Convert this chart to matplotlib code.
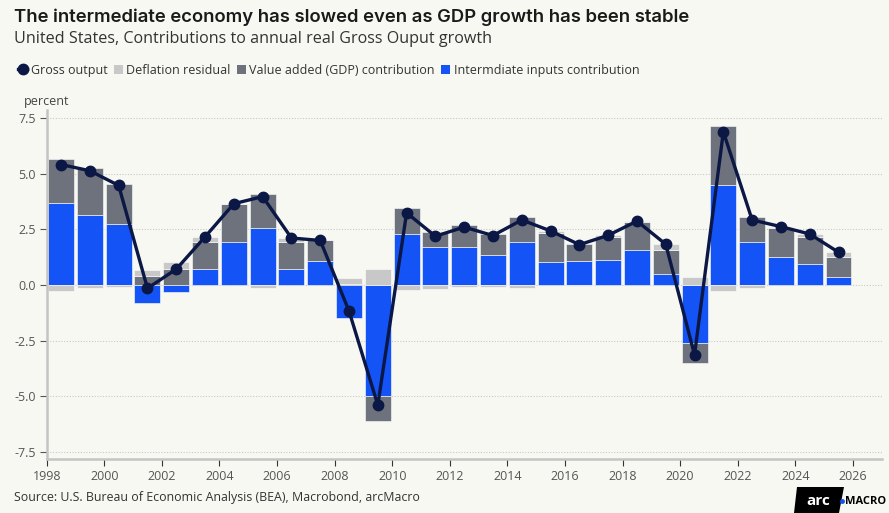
import matplotlib
matplotlib.use("Agg")
import matplotlib.pyplot as plt
from matplotlib.patches import Polygon, Patch
from matplotlib.lines import Line2D
import numpy as np

plt.rcParams['font.family'] = ['Open Sans', 'DejaVu Sans']

years = list(range(1998, 2026))
intermediate = [3.68, 3.14, 2.74, -0.82, -0.31, 0.73, 1.95, 2.56, 0.72, 1.09,
                -1.47, -4.98, 2.30, 1.69, 1.69, 1.36, 1.92, 1.05, 1.06, 1.11,
                1.56, 0.49, -2.62, 4.51, 1.93, 1.24, 0.96, 0.36]
value_added = [1.98, 2.11, 1.80, 0.42, 0.72, 1.22, 1.67, 1.53, 1.23, 0.91,
               0.06, -1.13, 1.16, 0.69, 1.00, 0.93, 1.12, 1.30, 0.78, 1.06,
               1.28, 1.10, -0.88, 2.62, 1.11, 1.33, 1.20, 0.90]
residual = [-0.25, -0.12, -0.07, 0.25, 0.30, 0.21, 0.03, -0.12, 0.16, 0.00,
            0.24, 0.72, -0.22, -0.19, -0.09, -0.07, -0.12, 0.08, -0.03, 0.06,
            0.03, 0.24, 0.36, -0.25, -0.12, 0.05, 0.13, 0.21]
gross_output = [5.41, 5.13, 4.47, -0.15, 0.71, 2.16, 3.65, 3.97, 2.11, 2.00,
                -1.17, -5.39, 3.24, 2.19, 2.60, 2.22, 2.92, 2.43, 1.81, 2.23,
                2.87, 1.83, -3.14, 6.88, 2.92, 2.62, 2.29, 1.47]
yticks = [-7.5, -5.0, -2.5, 0.0, 2.5, 5.0, 7.5]
xticks = list(range(1998, 2027, 2))

BG = "#f8f8f3"
BLUE = "#1453f6"
DARK = "#6e727c"
LIGHT = "#c8c8c8"
NAVY = "#0b1744"

fig = plt.figure(figsize=(8.89, 5.13), dpi=100, facecolor=BG)
ax = fig.add_axes([0.0525, 0.1047, 0.9393, 0.6809], facecolor=BG)

x = np.array(years) + 0.5
pos_base = np.zeros(len(years))
neg_base = np.zeros(len(years))
for vals, col in [(intermediate, BLUE), (value_added, DARK), (residual, LIGHT)]:
    v = np.array(vals)
    bottoms = np.where(v >= 0, pos_base, neg_base)
    ax.bar(x, v, bottom=bottoms, width=0.9, color=col, edgecolor="#ffffff",
           linewidth=0.4, zorder=2)
    pos_base = pos_base + np.where(v >= 0, v, 0)
    neg_base = neg_base + np.where(v < 0, v, 0)

ax.plot(x, gross_output, color=NAVY, lw=2.4, marker="o", ms=7.5, zorder=4)

ax.set_xlim(1998, 2027)
ax.set_ylim(-7.83, 7.86)
ax.set_yticks(yticks)
ax.set_yticklabels([f"{t:.1f}" for t in yticks])
ax.set_xticks(xticks)
ax.grid(axis="y", color="#c9c9c9", ls=(0, (1, 1.5)), lw=0.8, zorder=0)
for s in ["top", "right"]:
    ax.spines[s].set_visible(False)
ax.spines["left"].set_color("#c4c4c4")
ax.spines["left"].set_linewidth(1.8)
ax.spines["bottom"].set_color("#c4c4c4")
ax.spines["bottom"].set_linewidth(1.8)
ax.tick_params(axis="y", length=5, width=0.8, color="#555555", labelcolor="#555555",
               labelsize=9, pad=3)
ax.tick_params(axis="x", length=5, width=0.8, color="#333333", labelcolor="#555555",
               labelsize=9, pad=3)

fig.text(0.016, 0.966, "The intermediate economy has slowed even as GDP growth has been stable",
         fontsize=13.3, fontweight="semibold", color="#1a1a1a", va="center",
         family=["Inter", "DejaVu Sans"])
fig.text(0.016, 0.924, "United States, Contributions to annual real Gross Ouput growth",
         fontsize=11.6, color="#333333", va="center")
fig.text(0.027, 0.803, "percent", fontsize=9, color="#444444", va="center")
fig.text(0.016, 0.030, "Source: U.S. Bureau of Economic Analysis (BEA), Macrobond, arcMacro",
         fontsize=8.9, color="#333333", va="center")

handles = [
    Line2D([], [], color=NAVY, lw=2.4, marker="o", ms=7.5),
    Patch(facecolor=LIGHT),
    Patch(facecolor=DARK),
    Patch(facecolor=BLUE),
]
labels = ["Gross output", "Deflation residual", "Value added (GDP) contribution",
          "Intermdiate inputs contribution"]
fig.legend(handles, labels, loc="center left", bbox_to_anchor=(0.008, 0.863),
           ncol=4, frameon=False, fontsize=9, handlelength=0.7, handleheight=0.7,
           handletextpad=0.3, columnspacing=0.5, labelcolor="#333333")

# arcMacro logo
W, H = 889, 513
poly = Polygon([(794 / W, 0), (839 / W, 0), (844 / W, 26 / H), (797 / W, 26 / H)],
               closed=True, transform=fig.transFigure, facecolor="#000000", zorder=5)
fig.patches.append(poly)
fig.text(818 / W, 12 / H, "arc", fontsize=11, fontweight="bold", color="white",
         ha="center", va="center", zorder=6)
fig.add_artist(Line2D([841.5 / W], [12 / H], marker="o", ms=2.5, color=BLUE,
                      transform=fig.transFigure, zorder=7))
fig.text(845 / W, 12 / H, "MACRO", fontsize=8, fontweight="bold", color="#000000",
         ha="left", va="center", zorder=6)

fig.savefig("out.png", dpi=100, facecolor=BG)
